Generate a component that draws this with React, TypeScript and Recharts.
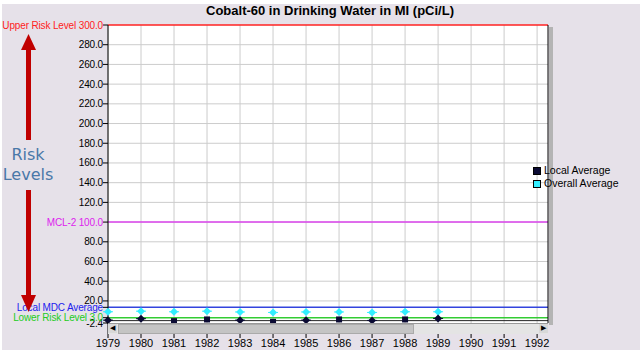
import React from "react";
import {
  ComposedChart,
  Line,
  XAxis,
  YAxis,
  CartesianGrid,
  ReferenceLine,
} from "recharts";

const years = [1979, 1980, 1981, 1982, 1983, 1984, 1985, 1986, 1987, 1988, 1989];
const localAverage = [0.5, 2.0, -0.5, 1.2, 0.5, -1.2, 0.5, 1.2, 0.2, 1.2, 2.2];
const overallAverage = [9.0, 9.6, 9.0, 9.6, 8.8, 8.3, 8.8, 8.8, 8.3, 9.0, 9.0];
const localShapes = ["d", "d", "s", "s", "d", "s", "d", "s", "d", "s", "d"];

const xTicks = [1979, 1980, 1981, 1982, 1983, 1984, 1985, 1986, 1987, 1988, 1989, 1990, 1991, 1992];
const gridValues = [20, 40, 60, 80, 100, 120, 140, 160, 180, 200, 220, 240, 260, 280];

const upperRisk = 300;
const mcl2 = 100;
const localMdc = 13.5;
const lowerRisk = 3;
const yMin = -2.4;
const yTicks = [yMin, lowerRisk, localMdc, ...gridValues, upperRisk];

const specialLabels: Record<string, { text: string; color: string }> = {
  "300": { text: "Upper Risk Level 300.0", color: "#ff2222" },
  "100": { text: "MCL-2 100.0", color: "#dd22ee" },
  "13.5": { text: "Local MDC Average", color: "#2222ee" },
  "3": { text: "Lower Risk Level 3.0", color: "#22cc22" },
};

const data = years.map((y, i) => ({
  year: y,
  local: localAverage[i],
  overall: overallAverage[i],
  shape: localShapes[i],
}));

const FONT = "'Liberation Sans', Arial, sans-serif";
const AXIS_X = 108;

// eslint-disable-next-line @typescript-eslint/no-explicit-any
function YTick({ y, payload }: any) {
  const sp = specialLabels[String(payload.value)];
  const text = sp ? sp.text : payload.value === yMin ? "-2.4" : payload.value.toFixed(1);
  const color = sp ? sp.color : "#000";
  return (
    <g>
      <line x1={AXIS_X - 5} x2={AXIS_X} y1={y} y2={y} stroke="#000" />
      <text x={AXIS_X - 5} y={y} dy={3.5} textAnchor="end" fontSize={10} letterSpacing={-0.15} fill={color} fontFamily={FONT}>
        {text}
      </text>
    </g>
  );
}

// eslint-disable-next-line @typescript-eslint/no-explicit-any
function LocalDot({ cx, cy, payload }: any) {
  if (cx == null || cy == null) return null;
  if (payload.shape === "s") {
    return <rect x={cx - 3} y={cy - 3} width={6} height={6} fill="#0a0a33" />;
  }
  return (
    <g>
      <polygon points={`${cx},${cy - 4} ${cx + 4},${cy} ${cx},${cy + 4} ${cx - 4},${cy}`} fill="#0a0a33" />
      <line x1={cx - 5} x2={cx + 5} y1={cy} y2={cy} stroke="#0a0a33" />
    </g>
  );
}

// eslint-disable-next-line @typescript-eslint/no-explicit-any
function OverallDot({ cx, cy }: any) {
  if (cx == null || cy == null) return null;
  return (
    <g>
      <polygon points={`${cx},${cy - 4} ${cx + 4},${cy} ${cx},${cy + 4} ${cx - 4},${cy}`} fill="#33eeff" />
      <line x1={cx - 5} x2={cx + 5} y1={cy} y2={cy} stroke="#33eeff" />
    </g>
  );
}

export default function App() {
  return (
    <div style={{ position: "absolute", left: 0, top: 0, width: 642, height: 356, background: "#fff" }}>
      <div style={{ position: "absolute", left: 2, top: 4, width: 638, height: 346, background: "#e6e1e9" }} />
      <div
        style={{
          position: "absolute",
          left: 0,
          top: 3,
          width: 660,
          textAlign: "center",
          fontFamily: FONT,
          fontWeight: "bold",
          fontSize: 13,
        }}
      >
        Cobalt-60 in Drinking Water in MI (pCi/L)
      </div>
      <div style={{ position: "absolute", left: 0, top: 0 }}>
        <ComposedChart width={642} height={356} data={data} margin={{ top: 25, right: 94, bottom: 0, left: 8 }}>
          <CartesianGrid
            stroke="#cccccc"
            fill="#ffffff"
            fillOpacity={1}
            horizontalValues={gridValues}
            verticalValues={xTicks}
          />
          <XAxis
            dataKey="year"
            type="number"
            domain={[1979, 1992.33]}
            ticks={xTicks}
            interval={0}
            height={33}
            axisLine={false}
            tickSize={15}
            tickMargin={1}
            tickLine={{ stroke: "#000" }}
            tick={{ fontSize: 11, fill: "#000", fontFamily: FONT }}
          />
          <YAxis
            type="number"
            domain={[yMin, upperRisk]}
            ticks={yTicks}
            interval={0}
            width={100}
            tickLine={false}
            axisLine={{ stroke: "#000" }}
            tick={<YTick />}
          />
          <ReferenceLine y={upperRisk} stroke="#ff2222" strokeWidth={1.5} />
          <ReferenceLine y={mcl2} stroke="#dd44ee" strokeWidth={1.5} />
          <ReferenceLine y={localMdc} stroke="#3344dd" strokeWidth={1.5} />
          <ReferenceLine y={lowerRisk} stroke="#33cc33" strokeWidth={1.5} />
          <ReferenceLine y={0} stroke="#222" strokeWidth={1} />
          <ReferenceLine x={1992.33} stroke="#000" />
          <Line
            dataKey="overall"
            stroke="none"
            dot={<OverallDot />}
            activeDot={false}
            isAnimationActive={false}
          />
          <Line
            dataKey="local"
            stroke="none"
            dot={<LocalDot />}
            activeDot={false}
            isAnimationActive={false}
          />
        </ComposedChart>
      </div>
      {/* scrollbars */}
      <div style={{ position: "absolute", left: 108, top: 323, width: 440, height: 10, background: "#e4e4e4", borderTop: "1px solid #999" }} />
      <div style={{ position: "absolute", left: 108, top: 324, width: 9, height: 9, background: "#d8d8d8", fontSize: 7, lineHeight: "9px", textAlign: "center" }}>◀</div>
      <div style={{ position: "absolute", left: 118, top: 324, width: 294, height: 8, background: "#c4c4c4", border: "1px solid #aaa" }} />
      <div style={{ position: "absolute", left: 539, top: 324, width: 9, height: 9, background: "#d8d8d8", fontSize: 7, lineHeight: "9px", textAlign: "center" }}>▶</div>
      <div style={{ position: "absolute", left: 549, top: 27, width: 4, height: 298, background: "#b4b4b4" }} />
      {/* legend */}
      <div style={{ position: "absolute", left: 533, top: 164, fontFamily: FONT, fontSize: 10.5, lineHeight: "13px" }}>
        <div style={{ display: "flex", alignItems: "center", gap: 3 }}>
          <span style={{ width: 6, height: 6, background: "#0a0a33", border: "1px solid #000", display: "inline-block" }} />
          Local Average
        </div>
        <div style={{ display: "flex", alignItems: "center", gap: 3 }}>
          <span style={{ width: 6, height: 6, background: "#33eeff", border: "1px solid #000", display: "inline-block" }} />
          Overall Average
        </div>
      </div>
      {/* risk arrows */}
      <svg style={{ position: "absolute", left: 0, top: 0 }} width={100} height={330}>
        <rect x={26} y={46} width={5} height={94} fill="#c00000" />
        <polygon points="28.5,34 21,50 36,50" fill="#c00000" />
        <rect x={26} y={190} width={5} height={106} fill="#c00000" />
        <polygon points="28.5,312 21,295 36,295" fill="#c00000" />
      </svg>
      <div
        style={{
          position: "absolute",
          left: 0,
          top: 145,
          width: 56,
          textAlign: "center",
          color: "#4a78a8",
          fontFamily: "'DejaVu Sans', sans-serif",
          fontSize: 16,
          lineHeight: "20px",
        }}
      >
        Risk
        <br />
        Levels
      </div>
    </div>
  );
}
